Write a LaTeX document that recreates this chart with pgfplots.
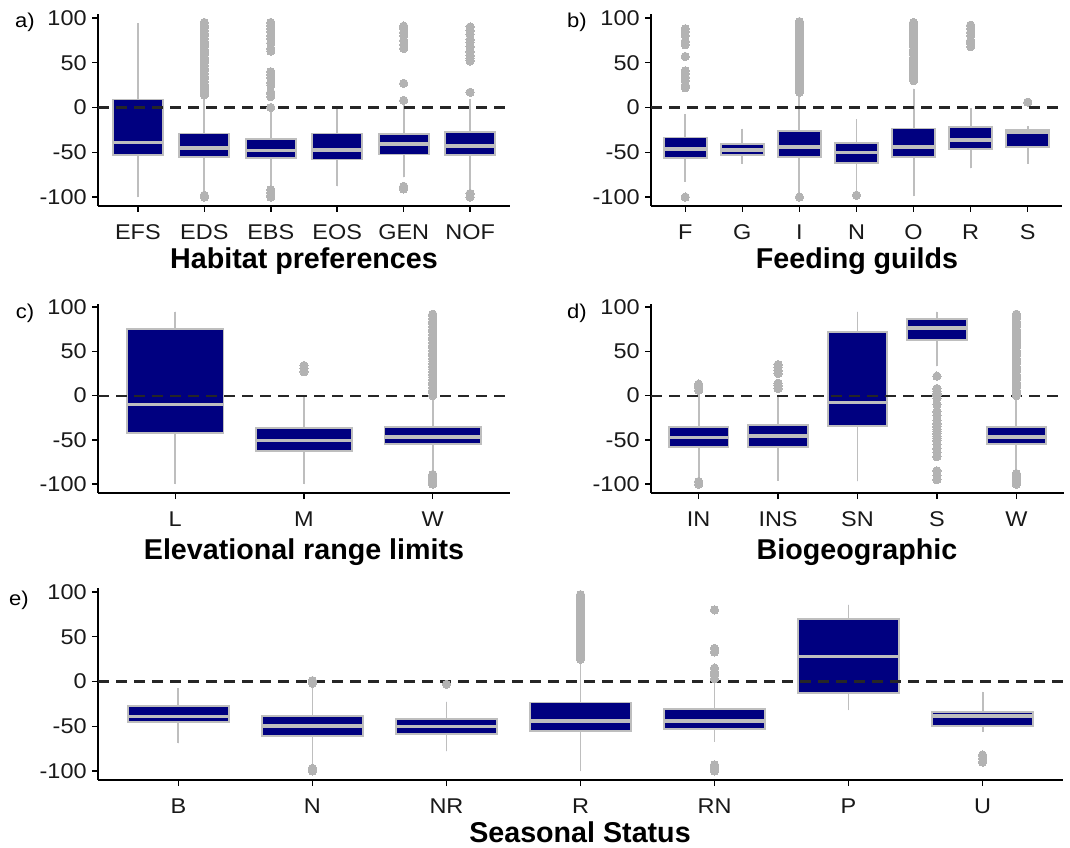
\documentclass[border=0pt]{standalone}
\usepackage{fontspec}
\setmainfont{Liberation Sans}
\newfontfamily\tickfont[FakeStretch=1.1]{Liberation Sans}
\usepackage{pgfplots}
\pgfplotsset{compat=1.18}
\usepgfplotslibrary{statistics}
\definecolor{boxnavy}{RGB}{0,0,128}
\definecolor{boxgray}{RGB}{190,190,190}
\definecolor{outgray}{RGB}{179,179,179}
\pgfplotsset{
  panel/.style={
    scale only axis,
    axis lines=left, axis line style={-, line width=1.4pt, black},
    ymin=-110, ymax=104, xmin=0.4,
    ytick={-100,-50,0,50,100},
    yticklabels={-100,-50,0,50,100},
    tick align=outside, major tick length=4.5pt,
    tick style={black, line width=1.1pt},
    ticklabel style={font=\tickfont\fontsize{16}{18}\selectfont, text=black!90},
    xticklabel style={yshift=-6pt},
    yticklabel style={xshift=-0.5pt},
    clip=false,
    boxplot/draw direction=y,
    boxplot/box extend=0.75,
    boxplot/whisker extend=0,
    boxplot/every median/.style={line width=2.6pt},
  },
  bx/.style={draw=boxgray, fill=boxnavy, line width=1.4pt, solid, mark=*, mark size=3.1pt,
    mark options={draw=outgray, fill=outgray, line width=0pt}},
  zline/.style={dash pattern=on 8.5pt off 5pt, line width=1.6pt, black!85},
}
\newcommand{\ttl}{\fontsize{21.5}{25}\selectfont\bfseries}
\newcommand{\tg}{\tickfont\fontsize{15}{17}\selectfont}
\begin{document}
\begin{tikzpicture}
\path[use as bounding box] (0,0) rectangle (802.5pt,635.25pt);
% ---------------- a) Habitat preferences
\begin{axis}[panel, at={(73.5pt,480.75pt)}, anchor=south west, width=309pt, height=143.7pt,
  xmax=6.6, xtick={1,2,3,4,5,6}, xticklabels={EFS,EDS,EBS,EOS,GEN,NOF}]
\addplot[bx, boxplot prepared={draw position=1, lower whisker=-100, lower quartile=-53.5, median=-39, upper quartile=9, upper whisker=94}] coordinates {};
\addplot[bx, boxplot prepared={draw position=2, lower whisker=-96, lower quartile=-55, median=-45, upper quartile=-29, upper whisker=12}] coordinates {
(0,14)(0,16)(0,18)(0,20)(0,23)(0,26)(0,29)(0,32)(0,35)(0,38)(0,41)(0,44)(0,47)(0,50)(0,53)(0,56)(0,59)(0,62)(0,65)(0,68)(0,71)(0,74)(0,77)(0,80)(0,83)(0,86)(0,89)(0,92)(0,95)(0,-98)(0,-100)};
\addplot[bx, boxplot prepared={draw position=3, lower whisker=-90, lower quartile=-56.5, median=-48, upper quartile=-35.5, upper whisker=-3}] coordinates {
(0,0)(0,12)(0,15)(0,17)(0,25)(0,28)(0,33)(0,37)(0,40)(0,63)(0,66)(0,72)(0,77)(0,80)(0,85)(0,88)(0,92)(0,95)(0,-92)(0,-95)(0,-98)(0,-100)};
\addplot[bx, boxplot prepared={draw position=4, lower whisker=-88, lower quartile=-58, median=-47.5, upper quartile=-29, upper whisker=0}] coordinates {};
\addplot[bx, boxplot prepared={draw position=5, lower whisker=-78, lower quartile=-52.5, median=-41, upper quartile=-30, upper whisker=4}] coordinates {
(0,8)(0,27)(0,66)(0,70)(0,75)(0,80)(0,84)(0,88)(0,91)(0,-88)(0,-91)};
\addplot[bx, boxplot prepared={draw position=6, lower whisker=-95, lower quartile=-53.5, median=-43, upper quartile=-27, upper whisker=9}] coordinates {
(0,17)(0,52)(0,55)(0,58)(0,62)(0,68)(0,73)(0,76)(0,82)(0,86)(0,90)(0,-96)(0,-100)};
\addplot[zline] coordinates {(0.4,0) (6.6,0)};
\end{axis}
% ---------------- b) Feeding guilds
\begin{axis}[panel, at={(488.25pt,480.75pt)}, anchor=south west, width=308.25pt, height=143.7pt,
  xmax=7.6, xtick={1,2,3,4,5,6,7}, xticklabels={F,G,I,N,O,R,S}]
\addplot[bx, boxplot prepared={draw position=1, lower whisker=-83, lower quartile=-56, median=-46.5, upper quartile=-33.5, upper whisker=-7.5}] coordinates {
(0,22)(0,25)(0,30)(0,34)(0,38)(0,41)(0,57)(0,70)(0,74)(0,80)(0,85)(0,88)(0,-100)};
\addplot[bx, boxplot prepared={draw position=2, lower whisker=-63, lower quartile=-53, median=-47.5, upper quartile=-41, upper whisker=-24}] coordinates {};
\addplot[bx, boxplot prepared={draw position=3, lower whisker=-97, lower quartile=-55, median=-44, upper quartile=-26.5, upper whisker=14}] coordinates {
(0,17)(0,19)(0,21)(0,24)(0,27)(0,30)(0,33)(0,36)(0,39)(0,42)(0,45)(0,48)(0,51)(0,54)(0,57)(0,60)(0,63)(0,66)(0,69)(0,72)(0,75)(0,78)(0,81)(0,84)(0,87)(0,90)(0,93)(0,96)(0,-100)};
\addplot[bx, boxplot prepared={draw position=4, lower whisker=-93, lower quartile=-61.5, median=-50.5, upper quartile=-40, upper whisker=-13}] coordinates {(0,-98)};
\addplot[bx, boxplot prepared={draw position=5, lower whisker=-99, lower quartile=-55, median=-44, upper quartile=-23.5, upper whisker=21}] coordinates {
(0,30)(0,32)(0,35)(0,38)(0,41)(0,44)(0,47)(0,50)(0,53)(0,56)(0,59)(0,62)(0,65)(0,68)(0,71)(0,74)(0,77)(0,80)(0,83)(0,86)(0,89)(0,92)(0,95)};
\addplot[bx, boxplot prepared={draw position=6, lower whisker=-68, lower quartile=-46.5, median=-36.5, upper quartile=-22, upper whisker=-1}] coordinates {
(0,68)(0,72)(0,75)(0,80)(0,84)(0,88)(0,92)};
\addplot[bx, boxplot prepared={draw position=7, lower whisker=-63, lower quartile=-44, median=-28, upper quartile=-25, upper whisker=-21}] coordinates {(0,6)};
\addplot[zline] coordinates {(0.4,0) (7.6,0)};
\end{axis}
% ---------------- c) Elevational range limits
\begin{axis}[panel, at={(73.5pt,265.5pt)}, anchor=south west, width=309pt, height=142.1pt,
  xmax=3.6, xtick={1,2,3}, xticklabels={L,M,W}]
\addplot[bx, boxplot prepared={draw position=1, lower whisker=-100, lower quartile=-42.5, median=-10, upper quartile=75.5, upper whisker=95}] coordinates {};
\addplot[bx, boxplot prepared={draw position=2, lower whisker=-100, lower quartile=-62.5, median=-50.5, upper quartile=-36.5, upper whisker=0}] coordinates {(0,27)(0,31)(0,34)};
\addplot[bx, boxplot prepared={draw position=3, lower whisker=-87, lower quartile=-55, median=-46.5, upper quartile=-35, upper whisker=-1}] coordinates {
(0,0)(0,3)(0,6)(0,9)(0,12)(0,15)(0,18)(0,21)(0,24)(0,27)(0,30)(0,33)(0,36)(0,39)(0,42)(0,45)(0,48)(0,51)(0,54)(0,57)(0,60)(0,63)(0,66)(0,69)(0,72)(0,75)(0,78)(0,81)(0,84)(0,87)(0,90)(0,92)
(0,-89)(0,-91)(0,-93)(0,-95)(0,-97)(0,-99)(0,-100)};
\addplot[zline] coordinates {(0.4,0) (3.6,0)};
\end{axis}
% ---------------- d) Biogeographic
\begin{axis}[panel, at={(488.25pt,265.5pt)}, anchor=south west, width=309.75pt, height=142.1pt,
  xmax=5.6, xtick={1,2,3,4,5}, xticklabels={IN,INS,SN,S,W}]
\addplot[bx, boxplot prepared={draw position=1, lower whisker=-95, lower quartile=-58.5, median=-47.5, upper quartile=-35, upper whisker=3}] coordinates {
(0,6)(0,9)(0,12)(0,13)(0,-97)(0,-100)};
\addplot[bx, boxplot prepared={draw position=2, lower whisker=-96, lower quartile=-58, median=-45.5, upper quartile=-33, upper whisker=1}] coordinates {
(0,8)(0,11)(0,14)(0,25)(0,28)(0,32)(0,35)};
\addplot[bx, boxplot prepared={draw position=3, lower whisker=-97, lower quartile=-34.5, median=-7.5, upper quartile=71.5, upper whisker=95}] coordinates {};
\addplot[bx, boxplot prepared={draw position=4, lower whisker=33, lower quartile=62.5, median=76.5, upper quartile=87, upper whisker=95}] coordinates {
(0,22)(0,8)(0,5)(0,2)(0,0)(0,-3)(0,-10)(0,-18)(0,-22)(0,-28)(0,-32)(0,-35)(0,-38)(0,-40)(0,-43)(0,-46)(0,-48)(0,-51)(0,-55)(0,-60)(0,-64)(0,-69)(0,-85)(0,-90)(0,-95)};
\addplot[bx, boxplot prepared={draw position=5, lower whisker=-87, lower quartile=-55, median=-46.5, upper quartile=-35, upper whisker=0}] coordinates {
(0,0)(0,3)(0,6)(0,9)(0,12)(0,15)(0,18)(0,21)(0,24)(0,27)(0,30)(0,33)(0,36)(0,39)(0,42)(0,45)(0,48)(0,51)(0,54)(0,57)(0,60)(0,63)(0,66)(0,69)(0,72)(0,75)(0,78)(0,81)(0,84)(0,87)(0,90)(0,92)
(0,-88)(0,-90)(0,-92)(0,-94)(0,-96)(0,-98)(0,-100)};
\addplot[zline] coordinates {(0.4,0) (5.6,0)};
\end{axis}
% ---------------- e) Seasonal Status
\begin{axis}[panel, at={(73.5pt,50.25pt)}, anchor=south west, width=723.75pt, height=143.7pt,
  xmax=7.6, xtick={1,2,3,4,5,6,7}, xticklabels={B,N,NR,R,RN,P,U}]
\addplot[bx, boxplot prepared={draw position=1, lower whisker=-69, lower quartile=-45, median=-39, upper quartile=-27.5, upper whisker=-7.5}] coordinates {};
\addplot[bx, boxplot prepared={draw position=2, lower whisker=-95, lower quartile=-60.5, median=-49.5, upper quartile=-38.5, upper whisker=-3}] coordinates {
(0,-2)(0,0)(0,1)(0,-97)(0,-100)};
\addplot[bx, boxplot prepared={draw position=3, lower whisker=-78, lower quartile=-59, median=-50.5, upper quartile=-42, upper whisker=-22.5}] coordinates {(0,-3)};
\addplot[bx, boxplot prepared={draw position=4, lower whisker=-100, lower quartile=-55, median=-44, upper quartile=-23.5, upper whisker=22}] coordinates {
(0,25)(0,27)(0,30)(0,33)(0,36)(0,39)(0,42)(0,45)(0,48)(0,51)(0,54)(0,57)(0,60)(0,63)(0,66)(0,69)(0,72)(0,75)(0,78)(0,81)(0,84)(0,87)(0,90)(0,93)(0,96)(0,97)};
\addplot[bx, boxplot prepared={draw position=5, lower whisker=-67, lower quartile=-53, median=-44, upper quartile=-31, upper whisker=1}] coordinates {
(0,3)(0,7)(0,11)(0,15)(0,33)(0,37)(0,80)(0,-93)(0,-97)(0,-100)};
\addplot[bx, boxplot prepared={draw position=6, lower whisker=-32, lower quartile=-12.5, median=28, upper quartile=69.5, upper whisker=86}] coordinates {};
\addplot[bx, boxplot prepared={draw position=7, lower whisker=-56, lower quartile=-49.5, median=-38.5, upper quartile=-34, upper whisker=-11.5}] coordinates {
(0,-82)(0,-86)(0,-90)};
\addplot[zline] coordinates {(0.4,0) (7.6,0)};
\end{axis}
% ---------------- titles and tags
\node[anchor=base, font=\ttl] at (228pt,433.5pt) {Habitat preferences};
\node[anchor=base, font=\ttl] at (642.75pt,433.5pt) {Feeding guilds};
\node[anchor=base, font=\ttl] at (228pt,216pt) {Elevational range limits};
\node[anchor=base, font=\ttl] at (642.75pt,216pt) {Biogeographic};
\node[anchor=base, font=\ttl] at (435pt,3.5pt) {Seasonal Status};
\node[font=\tg] at (18.75pt,618.75pt) {a)};
\node[font=\tg] at (432.75pt,618.75pt) {b)};
\node[font=\tg] at (18.75pt,400.5pt) {c)};
\node[font=\tg] at (432.75pt,400.5pt) {d)};
\node[font=\tg] at (14.25pt,185.25pt) {e)};
\end{tikzpicture}
\end{document}
